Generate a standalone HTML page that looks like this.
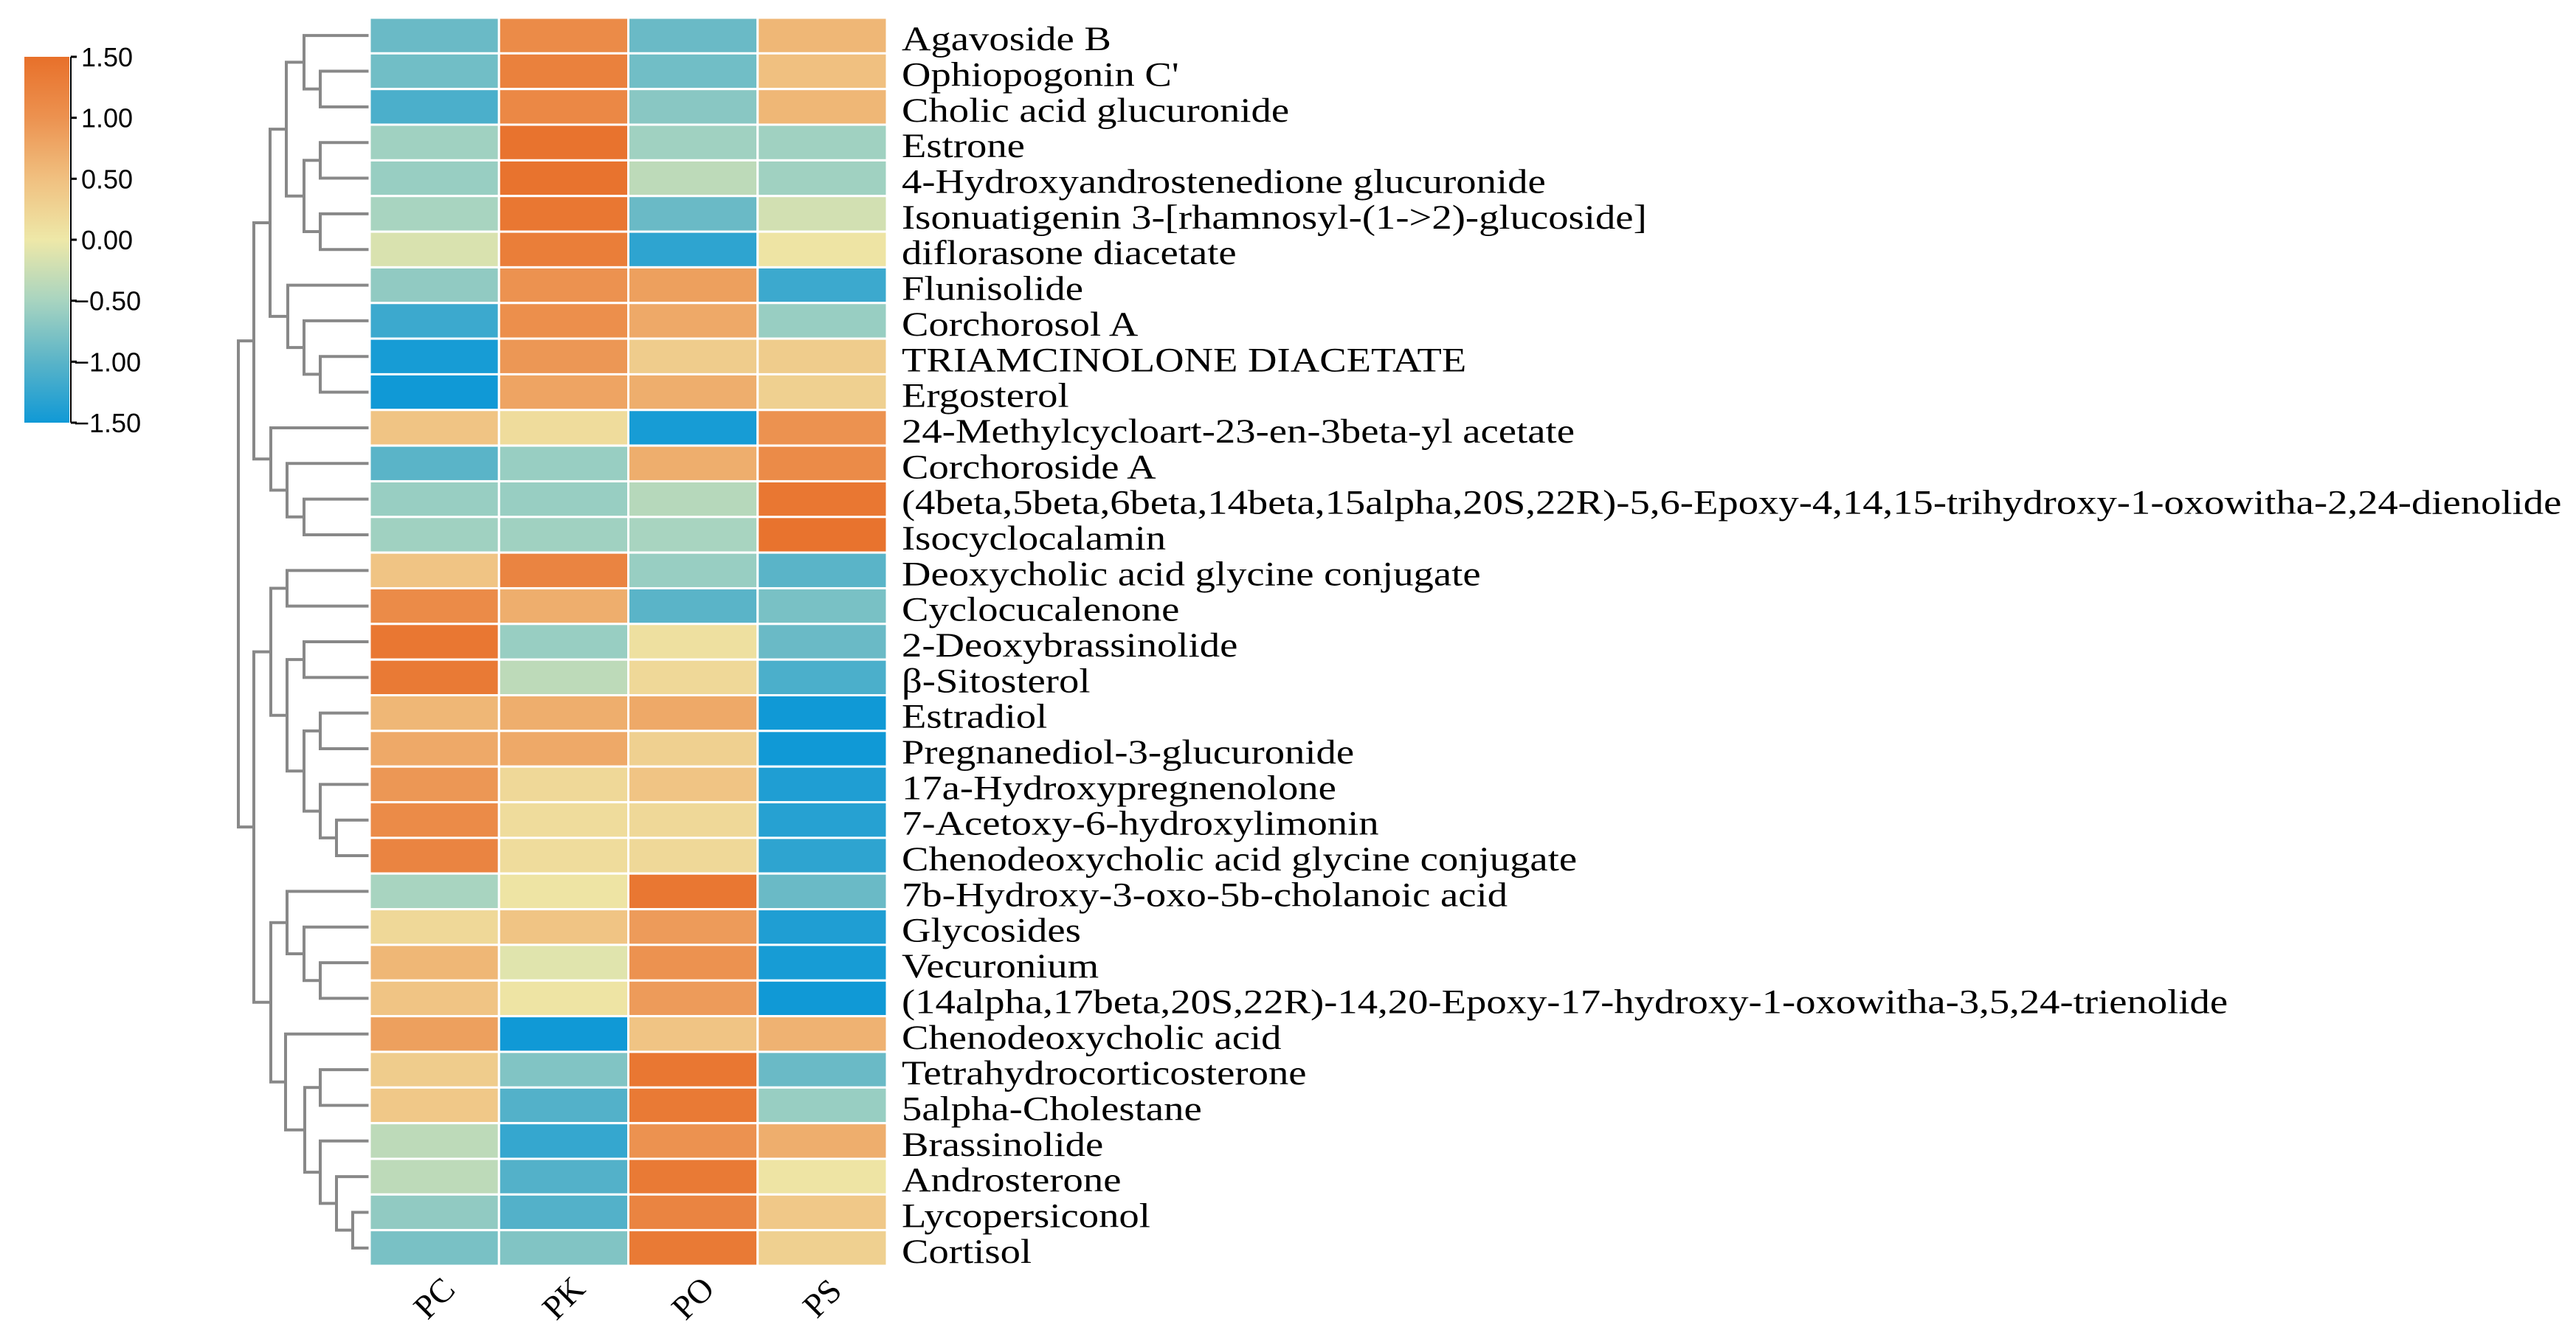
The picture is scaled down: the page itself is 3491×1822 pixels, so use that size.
<!DOCTYPE html>
<html><head><meta charset="utf-8"><style>
html,body{margin:0;padding:0;background:#fff;}
svg{display:block;}
</style></head><body>
<svg id="chart" width="3491" height="1822" viewBox="0 0 3491 1822" xmlns="http://www.w3.org/2000/svg">
<defs><linearGradient id="cbg" x1="0" y1="1" x2="0" y2="0">
<stop offset="0" stop-color="#1099D6"/><stop offset="0.1667" stop-color="#5AB4C8"/><stop offset="0.3333" stop-color="#A8D4C0"/><stop offset="0.5" stop-color="#EEE8A8"/><stop offset="0.6667" stop-color="#F0C080"/><stop offset="0.8333" stop-color="#EC9250"/><stop offset="1" stop-color="#E8702A"/></linearGradient></defs>
<g id="dendro"></g>
<g id="cells"></g>
<g id="rowlabels" transform="translate(1222,0) scale(1.163,1) translate(-1222,0)"></g>
<g id="collabels"></g>
<g id="legend">
<rect x="33" y="77" width="61" height="496" fill="url(#cbg)"/>
<line x1="96" y1="77" x2="96" y2="573" stroke="#000" stroke-width="2"/>
</g>
</svg>
<script>
const rows = ["Agavoside B","Ophiopogonin C'","Cholic acid glucuronide","Estrone","4-Hydroxyandrostenedione glucuronide","Isonuatigenin 3-[rhamnosyl-(1->2)-glucoside]","diflorasone diacetate","Flunisolide","Corchorosol A","TRIAMCINOLONE DIACETATE","Ergosterol","24-Methylcycloart-23-en-3beta-yl acetate","Corchoroside A","(4beta,5beta,6beta,14beta,15alpha,20S,22R)-5,6-Epoxy-4,14,15-trihydroxy-1-oxowitha-2,24-dienolide","Isocyclocalamin","Deoxycholic acid glycine conjugate","Cyclocucalenone","2-Deoxybrassinolide","β-Sitosterol","Estradiol","Pregnanediol-3-glucuronide","17a-Hydroxypregnenolone","7-Acetoxy-6-hydroxylimonin","Chenodeoxycholic acid glycine conjugate","7b-Hydroxy-3-oxo-5b-cholanoic acid","Glycosides","Vecuronium","(14alpha,17beta,20S,22R)-14,20-Epoxy-17-hydroxy-1-oxowitha-3,5,24-trienolide","Chenodeoxycholic acid","Tetrahydrocorticosterone","5alpha-Cholestane","Brassinolide","Androsterone","Lycopersiconol","Cortisol"];
const cols = ["PC","PK","PO","PS"];
const valPC = [-0.9,-0.85,-1.1,-0.55,-0.6,-0.5,-0.15,-0.65,-1.2,-1.45,-1.5,0.45,-1.0,-0.6,-0.55,0.45,1.1,1.4,1.35,0.6,0.75,0.95,1.1,1.2,-0.5,0.2,0.6,0.45,0.85,0.35,0.4,-0.35,-0.35,-0.65,-0.8];
const valPK = [1.1,1.25,1.15,1.45,1.45,1.4,1.3,1.0,1.05,0.95,0.8,0.15,-0.6,-0.6,-0.55,1.2,0.7,-0.6,-0.35,0.7,0.75,0.2,0.15,0.15,0.05,0.45,-0.1,0.05,-1.5,-0.75,-1.05,-1.25,-1.05,-1.05,-0.75];
const valPO = [-0.9,-0.85,-0.7,-0.55,-0.35,-0.9,-1.3,0.85,0.75,0.35,0.7,-1.45,0.7,-0.4,-0.5,-0.6,-1.0,0.1,0.2,0.75,0.3,0.45,0.2,0.2,1.4,0.9,1.0,0.9,0.45,1.4,1.35,1.0,1.35,1.2,1.35];
const valPS = [0.6,0.5,0.6,-0.55,-0.55,-0.2,0.05,-1.2,-0.6,0.35,0.3,1.0,1.1,1.4,1.45,-1.0,-0.8,-0.9,-1.1,-1.5,-1.5,-1.4,-1.35,-1.3,-0.9,-1.4,-1.45,-1.5,0.65,-0.9,-0.6,0.7,0.05,0.4,0.3];
const legendTicks = [1.5,1.0,0.5,0.0,-0.5,-1.0,-1.5];
const legendTickLabels = ["1.50","1.00","0.50","0.00","\u22120.50","\u22121.00","\u22121.50"];
function n(h,a,b){return {h:h,c:[a,b]};}
const treeTop = n(134, n(112, n(88,0,n(66,1,2)), n(88,n(66,3,4),n(66,5,6))), n(110,7,n(88,8,n(66,9,10))));
const treeMid = n(133,11,n(111,12,n(88,13,14)));
const treeC = n(133, n(111,15,16), n(111, n(88,17,18), n(88, n(66,19,20), n(66,21,n(44,22,23)))));
const treeD = n(133, n(111,24,n(88,25,n(66,26,27))), n(113,28,n(87,n(66,29,30),n(66,31,n(44,32,n(22,33,34))))));
const tree = n(177, n(156,treeTop,treeMid), n(156,treeC,treeD));

const NS="http://www.w3.org/2000/svg";
const X0=501, X1=1202, Y0=24, Y1=1716;
const cw=(X1-X0)/cols.length, rh=(Y1-Y0)/rows.length;
const series=[valPC,valPK,valPO,valPS];
const stops=[[-1.5,[16,153,214]],[-1,[90,180,200]],[-0.5,[168,212,192]],[0,[238,232,168]],[0.5,[240,192,128]],[1,[236,146,80]],[1.5,[232,112,42]]];
function color(v){v=Math.max(-1.5,Math.min(1.5,v));for(let i=0;i<stops.length-1;i++){const a=stops[i],b=stops[i+1];if(v<=b[0]){const t=(v-a[0])/(b[0]-a[0]);const c=a[1].map((x,k)=>Math.round(x+(b[1][k]-x)*t));return `rgb(${c})`;}}return 'rgb(232,112,42)';}
function mk(tag,attrs,parent){const e=document.createElementNS(NS,tag);for(const k in attrs)e.setAttribute(k,attrs[k]);parent.appendChild(e);return e;}
const cells=document.getElementById('cells');
series.forEach((s,j)=>{s.forEach((v,i)=>{
 const r=mk('rect',{x:X0+j*cw,y:Y0+i*rh,width:cw,height:rh,fill:color(v),stroke:'#fff','stroke-width':3},cells);
 
 
});});
const rl=document.getElementById('rowlabels');
rows.forEach((name,i)=>{
 const t=mk('text',{x:1222,y:Y0+(i+0.5)*rh+20,'font-family':'"Liberation Serif",serif','font-size':47,fill:'#000'},rl);
 t.textContent=name;
 
 
});
const cl=document.getElementById('collabels');
cols.forEach((c,j)=>{
 const cx=X0+(j+0.5)*cw, cy=1775;
 const t=mk('text',{x:cx,y:cy,'text-anchor':'middle','font-family':'"Liberation Serif",serif','font-size':46,fill:'#000',transform:`rotate(-45 ${cx} ${cy-15})`},cl);
 t.textContent=c;
 
 
});
const lg=document.getElementById('legend');
legendTicks.forEach((v,i)=>{
 const y=77+(1.5-v)/3*496;
 const tk=mk('line',{x1:96,x2:104,y1:y,y2:y,stroke:'#000','stroke-width':3},lg);
 
 
 const t=mk('text',{x:v<0?100:110,y:y+13,'font-family':'"Liberation Sans",sans-serif','font-size':36,fill:'#000'},lg);
 t.textContent=legendTickLabels[i];
 
 
});
const dg=document.getElementById('dendro');
const hx=h=>500-h;
function layout(node){
 if(typeof node==='number') return {y:Y0+(node+0.5)*rh,h:0};
 const a=layout(node.c[0]), b=layout(node.c[1]);
 const x=hx(node.h);
 const p=mk('path',{d:`M${hx(a.h)},${a.y}H${x}V${b.y}H${hx(b.h)}`,fill:'none',stroke:'#888','stroke-width':4},dg);
 
 
 return {y:(a.y+b.y)/2,h:node.h};
}
layout(tree);
</script>
</body></html>
